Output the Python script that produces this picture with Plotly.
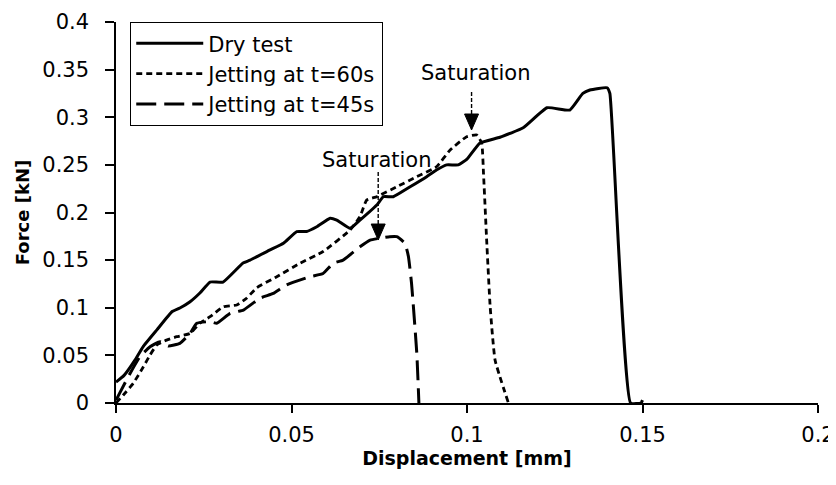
import plotly.graph_objects as go

# Dry test (solid)
dry_x = [0.0, 0.0023, 0.0054, 0.0077, 0.0117, 0.016, 0.0182, 0.021, 0.0239, 0.0268, 0.0305,
         0.0362, 0.0382, 0.0439, 0.0477, 0.0515, 0.0543, 0.0572, 0.061, 0.0629, 0.0667, 0.0695,
         0.0743, 0.0762, 0.079, 0.0838, 0.0885, 0.0913, 0.0942, 0.0975, 0.1, 0.1037,
         0.1094, 0.116, 0.1228, 0.1293, 0.133, 0.135, 0.1399, 0.1407, 0.1466, 0.1496, 0.15]
dry_y = [0.022, 0.029, 0.045, 0.059, 0.077, 0.096, 0.0997, 0.106, 0.1155, 0.127, 0.127,
         0.147, 0.150, 0.1607, 0.1677, 0.18, 0.18, 0.185, 0.194, 0.192, 0.1834, 0.192,
         0.2079, 0.2166, 0.2166, 0.227, 0.2376, 0.2446, 0.25, 0.25, 0.256, 0.273,
         0.279, 0.289, 0.31, 0.3076, 0.325, 0.3286, 0.331, 0.325, 0.0, 0.0, 0.003]

# Jetting at t=60s (short dash)
j60_x = [0.0, 0.0021, 0.0049, 0.0078, 0.0097, 0.0116, 0.0144, 0.0173, 0.0211, 0.0239, 0.0268,
         0.0306, 0.0344, 0.0372, 0.0401, 0.0458, 0.0524, 0.059, 0.0667, 0.0695, 0.0714, 0.0743,
         0.08, 0.0857, 0.0913, 0.0952, 0.0999, 0.1028, 0.1042, 0.1047, 0.1056, 0.1066, 0.108,
         0.1118]
j60_y = [0.0, 0.0084, 0.0206, 0.038, 0.0504, 0.0609, 0.066, 0.0696, 0.073, 0.0837, 0.0906,
         0.101, 0.1029, 0.110, 0.121, 0.1326, 0.1467, 0.159, 0.1817, 0.1956, 0.213, 0.2166,
         0.227, 0.2376, 0.248, 0.2656, 0.2796, 0.2814, 0.2726, 0.241, 0.171, 0.101, 0.045,
         0.0]

# Jetting at t=45s (long dash)
j45_x = [0.0, 0.004, 0.0068, 0.0097, 0.0125, 0.0149, 0.0182, 0.0211, 0.023, 0.0268, 0.0287,
         0.0325, 0.0363, 0.041, 0.0448, 0.0486, 0.0553, 0.059, 0.0619, 0.0647, 0.0695, 0.0724,
         0.0752, 0.078, 0.08, 0.0823, 0.0833, 0.0842, 0.0857, 0.0863]
j45_y = [0.003, 0.031, 0.0486, 0.059, 0.0644, 0.0598, 0.0626, 0.073, 0.0837, 0.0854, 0.0837,
         0.0942, 0.0976, 0.110, 0.115, 0.124, 0.1326, 0.136, 0.1467, 0.150, 0.164, 0.171,
         0.173, 0.1746, 0.1746, 0.1677, 0.154, 0.1257, 0.052, 0.0]

series_names = ["Dry test", "Jetting at t=60s", "Jetting at t=45s"]
x_ticks = [0, 0.05, 0.1, 0.15, 0.2]
y_ticks = [0, 0.05, 0.1, 0.15, 0.2, 0.25, 0.3, 0.35, 0.4]

# Saturation markers: arrow x, shaft top y, arrow tip y, label x, label y
sat_arrow_x = [0.0747, 0.1013]
sat_shaft_top = [0.2425, 0.3265]
sat_tip_y = [0.1711, 0.2866]
sat_label_x = [0.0743, 0.1023]
sat_label_y = [0.2555, 0.3465]

FONT = "'DejaVu Sans', sans-serif"
FS = 21

fig = go.Figure()
fig.add_trace(go.Scatter(x=dry_x, y=dry_y, mode="lines", name=series_names[0], legendgroup="a",
                         line=dict(color="black", width=3, shape="spline", smoothing=0.4)))
fig.add_trace(go.Scatter(x=j60_x, y=j60_y, mode="lines", name=series_names[1], legendgroup="b",
                         line=dict(color="black", width=2.8, dash="6px,4px", shape="spline", smoothing=0.4)))
fig.add_trace(go.Scatter(x=j45_x, y=j45_y, mode="lines", name=series_names[2], legendgroup="c",
                         line=dict(color="black", width=3, dash="20px,8px", shape="spline", smoothing=0.4)))

HEAD_H = 16
HEAD_W = 14
for ax_, top, tip, lx, ly in zip(sat_arrow_x, sat_shaft_top, sat_tip_y, sat_label_x, sat_label_y):
    # dashed shaft (to the base of the head)
    fig.add_shape(type="line", xref="x", yref="y", x0=ax_, x1=ax_, y0=top, y1=tip + 0.0168,
                  line=dict(color="black", width=1.4, dash="4px,2px"))
    # filled triangular arrow head, sized in pixels and anchored at the tip
    fig.add_shape(type="path", xref="x", yref="y", xsizemode="pixel", ysizemode="pixel",
                  xanchor=ax_, yanchor=tip,
                  path=f"M{-HEAD_W/2},{HEAD_H} L{HEAD_W/2},{HEAD_H} L0,0 Z",
                  fillcolor="black", line=dict(color="black", width=1))
    fig.add_annotation(x=lx, y=ly, xref="x", yref="y", text="Saturation", showarrow=False,
                       font=dict(family=FONT, size=FS, color="black"))

# The page body has an 8px margin, so the figure is 8px smaller than the window.
fig.update_layout(
    width=828, height=477,
    margin=dict(l=108, r=18, t=14, b=82),
    plot_bgcolor="white", paper_bgcolor="white",
    font=dict(family=FONT, size=FS, color="black"),
    showlegend=True,
    legend=dict(x=0.02, y=1.0, xanchor="left", yanchor="top",
                bordercolor="black", borderwidth=1.2, bgcolor="white",
                font=dict(family=FONT, size=FS, color="black"),
                tracegroupgap=4, itemwidth=67, traceorder="normal"),
)
fig.update_xaxes(range=[0, 0.2], tickvals=x_ticks, ticktext=[str(v) for v in x_ticks],
                 automargin=False,
                 showgrid=False, zeroline=False, showline=True, linecolor="black", linewidth=1.5,
                 ticks="outside", ticklen=8, tickcolor="black", tickwidth=1.5,
                 ticklabelstandoff=4,
                 tickfont=dict(family=FONT, size=FS),
                 title=dict(text="<b>Displacement [mm]</b>", font=dict(family=FONT, size=19), standoff=6))
fig.update_yaxes(range=[0, 0.4], tickvals=y_ticks, ticktext=[str(v) for v in y_ticks],
                 automargin=False,
                 showgrid=False, zeroline=False, showline=True, linecolor="black", linewidth=1.5,
                 ticks="outside", ticklen=9, tickcolor="black", tickwidth=1.5,
                 ticklabelstandoff=12,
                 tickfont=dict(family=FONT, size=FS),
                 title=dict(text="<b>Force [kN]</b>", font=dict(family=FONT, size=18), standoff=8))

fig.write_html("out.html")
